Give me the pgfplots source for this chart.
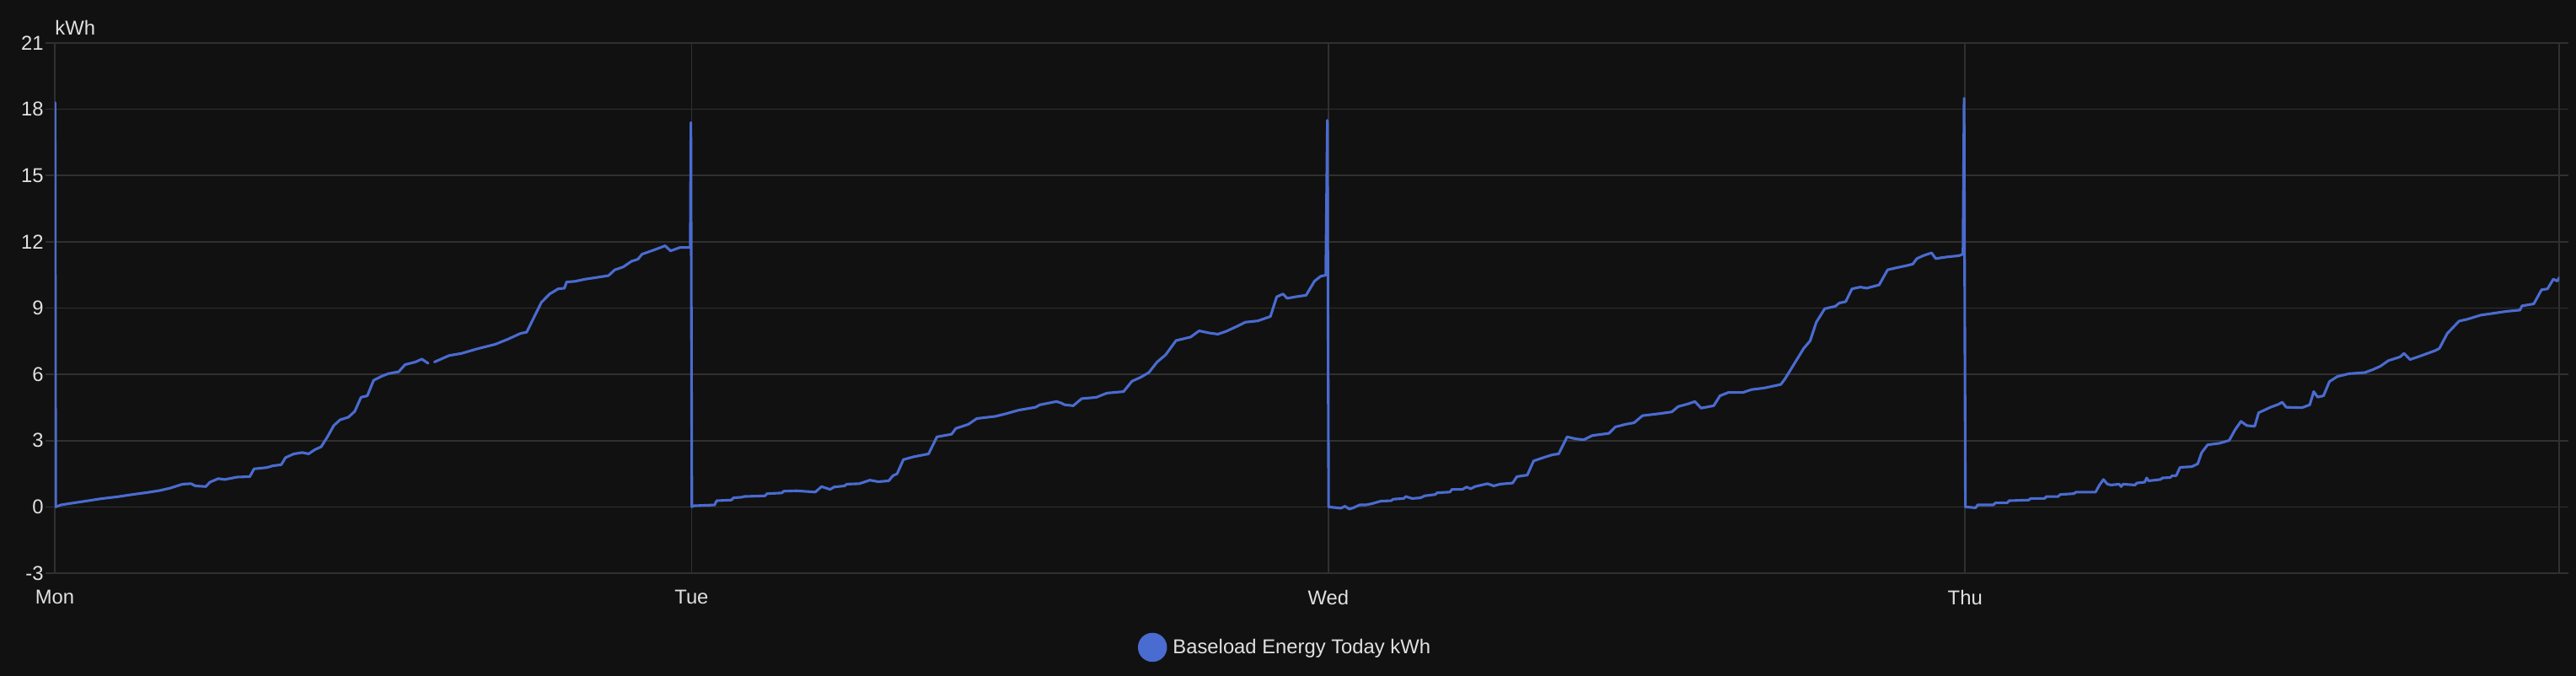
\documentclass[border=0pt]{standalone}
\usepackage{fontspec}
\setmainfont{Liberation Sans}
\usepackage{pgfplots}
\pgfplotsset{compat=1.18}
\definecolor{bgc}{HTML}{111111}
\definecolor{gridc}{HTML}{303030}
\definecolor{linec}{HTML}{4A6BD0}
\definecolor{txtc}{HTML}{E1E1E1}
\pgfplotstableread{
x y
0.0005 18.3
0.0015 0.00
0.0099 0.09
0.0296 0.18
0.0527 0.28
0.0725 0.37
0.0988 0.46
0.1219 0.56
0.1449 0.65
0.1647 0.74
0.1812 0.85
0.2009 1.03
0.2141 1.05
0.2207 0.95
0.2372 0.92
0.2437 1.12
0.2569 1.28
0.2668 1.24
0.2866 1.35
0.3063 1.37
0.3129 1.72
0.3327 1.78
0.3426 1.86
0.3557 1.91
0.3623 2.23
0.3755 2.40
0.3887 2.46
0.3986 2.40
0.4084 2.59
0.4183 2.72
0.4282 3.17
0.4381 3.68
0.4480 3.94
0.4611 4.06
0.4710 4.32
0.4809 4.96
0.4908 5.03
0.5007 5.73
0.5138 5.92
0.5237 6.03
0.5402 6.12
0.5501 6.44
0.5665 6.56
0.5764 6.69
0.5863 6.50
0.5900 nan
0.5962 6.56
0.6192 6.85
0.6390 6.95
0.6653 7.17
0.6917 7.36
0.7115 7.59
0.7312 7.85
0.7411 7.91
0.7510 8.49
0.7642 9.26
0.7773 9.64
0.7905 9.87
0.8004 9.90
0.8037 10.18
0.8169 10.21
0.8333 10.31
0.8498 10.38
0.8696 10.47
0.8794 10.73
0.8926 10.86
0.9058 11.12
0.9157 11.21
0.9223 11.44
0.9420 11.64
0.9585 11.82
0.9671 11.59
0.9816 11.74
0.9980 11.74
0.9990 17.40
1.0005 0.00
1.0033 0.05
1.0362 0.09
1.0395 0.28
1.0626 0.31
1.0659 0.41
1.0791 0.44
1.0823 0.47
1.1153 0.50
1.1186 0.60
1.1416 0.63
1.1449 0.71
1.1647 0.73
1.1943 0.67
1.2042 0.92
1.2174 0.79
1.2240 0.90
1.2404 0.95
1.2437 1.03
1.2635 1.05
1.2800 1.21
1.2932 1.14
1.3096 1.18
1.3162 1.41
1.3228 1.50
1.3327 2.14
1.3491 2.27
1.3722 2.40
1.3854 3.17
1.4084 3.29
1.4150 3.55
1.4348 3.74
1.4480 4.00
1.4776 4.10
1.4941 4.22
1.5138 4.38
1.5402 4.51
1.5468 4.62
1.5731 4.77
1.5797 4.71
1.5863 4.62
1.5995 4.58
1.6126 4.90
1.6357 4.96
1.6522 5.15
1.6785 5.22
1.6917 5.69
1.7049 5.86
1.7181 6.08
1.7312 6.56
1.7444 6.88
1.7609 7.53
1.7741 7.62
1.7839 7.69
1.7971 7.97
1.8136 7.87
1.8267 7.82
1.8399 7.95
1.8564 8.17
1.8696 8.36
1.8893 8.42
1.9091 8.62
1.9190 9.51
1.9289 9.64
1.9354 9.44
1.9486 9.51
1.9651 9.58
1.9783 10.22
1.9881 10.44
1.9960 10.49
1.9985 17.50
2.0005 0.00
2.0197 -0.06
2.0263 0.03
2.0329 -0.10
2.0395 -0.04
2.0493 0.09
2.0592 0.09
2.0691 0.15
2.0822 0.26
2.0987 0.28
2.1020 0.35
2.1184 0.38
2.1217 0.47
2.1316 0.38
2.1447 0.41
2.1513 0.50
2.1678 0.56
2.1711 0.64
2.1908 0.67
2.1941 0.79
2.2105 0.79
2.2171 0.90
2.2237 0.82
2.2303 0.92
2.2500 1.05
2.2599 0.95
2.2697 1.03
2.2895 1.08
2.2961 1.37
2.3125 1.44
2.3224 2.08
2.3355 2.21
2.3520 2.36
2.3618 2.40
2.3750 3.17
2.3882 3.08
2.4013 3.04
2.4145 3.23
2.4408 3.33
2.4507 3.62
2.4671 3.74
2.4803 3.81
2.4934 4.13
2.5197 4.22
2.5395 4.30
2.5493 4.54
2.5658 4.67
2.5757 4.77
2.5855 4.47
2.6053 4.58
2.6151 5.03
2.6283 5.18
2.6513 5.18
2.6645 5.31
2.6842 5.38
2.7105 5.54
2.7171 5.79
2.7303 6.41
2.7467 7.18
2.7566 7.51
2.7664 8.36
2.7796 8.97
2.7961 9.08
2.8026 9.23
2.8125 9.29
2.8224 9.87
2.8355 9.95
2.8454 9.90
2.8651 10.05
2.8783 10.73
2.8914 10.82
2.9079 10.92
2.9178 10.99
2.9243 11.24
2.9342 11.37
2.9474 11.50
2.9539 11.24
2.9704 11.31
2.9901 11.37
2.9967 11.44
2.9985 18.50
3.0005 0.00
3.0167 -0.04
3.0198 0.09
3.0445 0.09
3.0476 0.18
3.0661 0.18
3.0692 0.28
3.1000 0.31
3.1031 0.38
3.1247 0.38
3.1278 0.47
3.1463 0.47
3.1494 0.56
3.1710 0.60
3.1741 0.67
3.2049 0.67
3.2111 0.99
3.2173 1.24
3.2235 1.03
3.2297 0.99
3.2420 1.03
3.2451 0.92
3.2482 1.03
3.2667 0.99
3.2697 1.08
3.2821 1.12
3.2852 1.31
3.2883 1.18
3.3068 1.24
3.3099 1.31
3.3222 1.33
3.3253 1.41
3.3315 1.41
3.3376 1.79
3.3562 1.82
3.3654 1.95
3.3716 2.46
3.3809 2.81
3.3994 2.88
3.4148 3.01
3.4240 3.49
3.4333 3.87
3.4425 3.68
3.4549 3.65
3.4610 4.26
3.4796 4.51
3.4919 4.64
3.4981 4.74
3.5043 4.51
3.5290 4.49
3.5413 4.62
3.5475 5.22
3.5537 4.97
3.5629 5.03
3.5722 5.67
3.5845 5.90
3.6030 6.03
3.6277 6.08
3.6401 6.21
3.6524 6.37
3.6647 6.62
3.6832 6.79
3.6894 6.95
3.6987 6.67
3.7141 6.82
3.7388 7.08
3.7450 7.18
3.7573 7.85
3.7758 8.41
3.7882 8.49
3.8098 8.68
3.8314 8.77
3.8499 8.85
3.8715 8.91
3.8746 9.10
3.8931 9.19
3.9054 9.83
3.9147 9.87
3.9239 10.31
3.9301 10.22
3.9332 10.38
}\energydata
\begin{document}
\begin{tikzpicture}[font=\fontsize{11.9pt}{14pt}\selectfont]
\path[use as bounding box, fill=bgc] (0,0) rectangle (1528pt,401pt);
\begin{axis}[
  at={(32.5pt,61pt)}, anchor=south west, scale only axis,
  width=1485.5pt, height=314.5pt,
  xmin=0, xmax=3.933, ymin=-3, ymax=21,
  xtick={0,1,2,3}, xticklabels={Mon,Tue,Wed,Thu},
  ytick={-3,0,3,6,9,12,15,18,21},
  yticklabels={-3,0,3,6,9,12,15,18,21},
  axis line style={draw=gridc, line width=0.8pt},
  xmajorgrids, ymajorgrids,
  major grid style={draw=gridc, line width=0.8pt},
  tick align=outside,
  ytick style={draw=gridc, line width=0.8pt},
  xtick style={draw=none},
  major tick length=5.5pt,
  ticklabel style={text=txtc, inner sep=0pt},
  yticklabel style={anchor=east, xshift=-1pt},
  xticklabel style={anchor=north, yshift=-4.5pt},
  ylabel={kWh},
  every axis y label/.style={at={(rel axis cs:0,1)}, anchor=base west, inner sep=0pt, yshift=4.5pt, text=txtc},
  unbounded coords=jump,
  legend style={at={(axis description cs:0.4916,-0.1399)}, anchor=center, draw=none, fill=none, text=txtc, inner sep=0pt, column sep=1.5pt},
  legend image code/.code={\fill[linec] (0pt,0pt) circle (7.85pt);},
]
\addplot[linec, line width=1.55pt, line join=round, line cap=round, no markers] table[x=x, y=y] {\energydata};
\addlegendentry{Baseload Energy Today kWh}
\end{axis}
\end{tikzpicture}
\end{document}
